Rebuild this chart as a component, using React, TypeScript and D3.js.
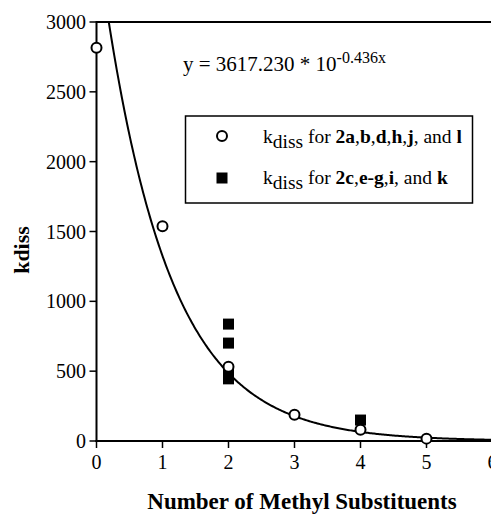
import * as d3 from "d3";

// open circles: kdiss for 2a,b,d,h,j and l
const circleX = [0, 1, 2, 3, 4, 5];
const circleY = [2815, 1538, 532, 188, 80, 17];
// filled squares: kdiss for 2c,e-g,i and k
const squareX = [2, 2, 2, 2, 4];
const squareY = [837, 701, 478, 445, 150];

const xTicks = [0, 1, 2, 3, 4, 5, 6];
const yTicks = [0, 500, 1000, 1500, 2000, 2500, 3000];

const fitA = 3617.23;
const fitB = 0.436;

const W = 491;
const H = 514;
const serif = "Liberation Serif";

export default function App() {
  const x = d3.scaleLinear().domain([0, 6]).range([96.5, 492.5]);
  const y = d3.scaleLinear().domain([0, 3000]).range([441, 22]);

  const x0 = Math.log10(fitA / 3000) / fitB;
  const fitXs = d3.range(x0, 6.001, 0.02);
  const fitLine = d3
    .line<number>()
    .x((d) => x(d))
    .y((d) => y(fitA * Math.pow(10, -fitB * d)))
    .curve(d3.curveMonotoneX)(fitXs) ?? "";

  const sq = 11;
  const tf = { fontFamily: serif };

  return (
    <div style={{ position: "absolute", left: 0, top: 0 }}>
      <svg width={W} height={H} style={{ display: "block", background: "#fff", fontFamily: serif }}>
        <path d={fitLine} fill="none" stroke="#000" strokeWidth={2} />

        {/* axes + top frame */}
        <line x1={x(0)} x2={W} y1={y(3000)} y2={y(3000)} stroke="#000" strokeWidth={2} />
        <line x1={x(0)} x2={x(0)} y1={y(3000) - 1} y2={y(0) + 1} stroke="#000" strokeWidth={2} />
        <line x1={x(0) - 1} x2={W} y1={y(0)} y2={y(0)} stroke="#000" strokeWidth={2.2} />

        {yTicks.map((t) => (
          <g key={`y${t}`}>
            <line x1={x(0) - 7} x2={x(0)} y1={y(t)} y2={y(t)} stroke="#000" strokeWidth={1.5} />
            <text x={86} y={y(t)} dy="0.35em" textAnchor="end" fontSize={20} style={tf}>
              {t}
            </text>
          </g>
        ))}
        {xTicks.map((t) => (
          <g key={`x${t}`}>
            <line x1={x(t)} x2={x(t)} y1={y(0)} y2={y(0) + 7} stroke="#000" strokeWidth={1.5} />
            <text x={x(t)} y={469} textAnchor="middle" fontSize={20} style={tf}>
              {t}
            </text>
          </g>
        ))}

        {squareX.map((d, i) => (
          <rect
            key={`s${i}`}
            x={x(d) - sq / 2}
            y={y(squareY[i]) - sq / 2}
            width={sq}
            height={sq}
            fill="#000"
          />
        ))}
        {circleX.map((d, i) => (
          <circle key={`c${i}`} cx={x(d)} cy={y(circleY[i])} r={5} fill="#fff" stroke="#000" strokeWidth={2} />
        ))}

        {/* equation */}
        <text x={183} y={71} fontSize={21} style={tf}>
          y = 3617.230 * 10
          <tspan dy={-8} fontSize={16}>-0.436x</tspan>
        </text>

        {/* legend */}
        <rect x={185.5} y={116} width={287} height={87} fill="#fff" stroke="#000" strokeWidth={1.5} />
        <circle cx={222} cy={136} r={5} fill="#fff" stroke="#000" strokeWidth={2} />
        <rect x={222 - sq / 2} y={178 - sq / 2} width={sq} height={sq} fill="#000" />
        <text x={263} y={143} fontSize={19.5} style={tf}>
          k<tspan dy={5}>diss</tspan>
          <tspan dy={-5}> for </tspan>
          <tspan fontWeight="bold">2a</tspan>,<tspan fontWeight="bold">b</tspan>,
          <tspan fontWeight="bold">d</tspan>,<tspan fontWeight="bold">h</tspan>,
          <tspan fontWeight="bold">j</tspan>, and <tspan fontWeight="bold">l</tspan>
        </text>
        <text x={263} y={184} fontSize={19.5} style={tf}>
          k<tspan dy={5}>diss</tspan>
          <tspan dy={-5}> for </tspan>
          <tspan fontWeight="bold">2c</tspan>,<tspan fontWeight="bold">e-g</tspan>,
          <tspan fontWeight="bold">i</tspan>, and <tspan fontWeight="bold">k</tspan>
        </text>

        {/* axis titles */}
        <text
          transform="translate(29,250) rotate(-90)"
          textAnchor="middle"
          fontSize={22}
          fontWeight="bold"
          style={tf}
        >
          kdiss
        </text>
        <text x={302} y={509} textAnchor="middle" fontSize={23} fontWeight="bold" style={tf}>
          Number of Methyl Substituents
        </text>
      </svg>
    </div>
  );
}
